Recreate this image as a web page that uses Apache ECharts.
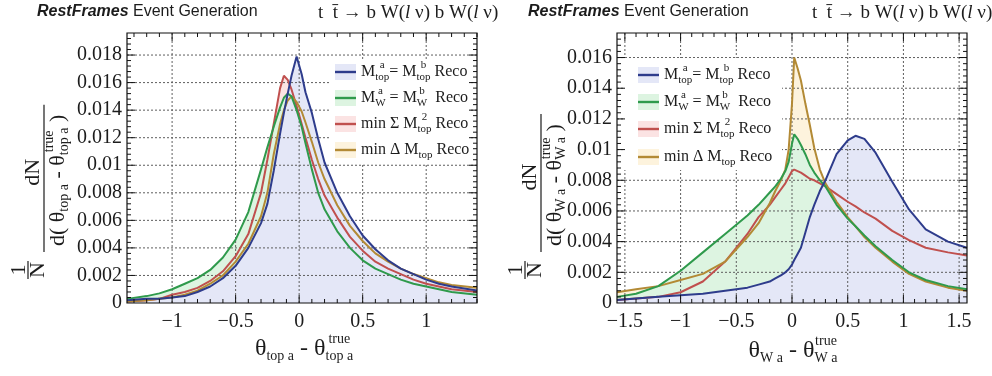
<!DOCTYPE html>
<html>
<head>
<meta charset="utf-8">
<script src="https://cdn.jsdelivr.net/npm/echarts@6/dist/echarts.min.js"></script>
<style>
  html, body { margin: 0; padding: 0; background: #fff; }
  #main { width: 992px; height: 376px; }
</style>
</head>
<body>
<div id="main"></div>
<script>
// ---------- top-quark angle resolution (left panel) ----------
const THETA_TOP = [-1.355, -1.2, -1.1, -1.0, -0.9, -0.8, -0.7, -0.6, -0.5, -0.4, -0.3, -0.25, -0.2, -0.15, -0.12, -0.09, -0.06, -0.02,
                   0.02, 0.05, 0.1, 0.15, 0.2, 0.3, 0.4, 0.5, 0.6, 0.7, 0.8, 0.9, 1.0, 1.1, 1.2, 1.4];
const TOP_EQ_TOP = [0.0002, 0.0003, 0.0003, 0.0004, 0.0005, 0.0008, 0.0012, 0.0018, 0.0027, 0.0040, 0.0058, 0.0072, 0.0096, 0.0123, 0.0138, 0.0152, 0.0165, 0.0179,
                    0.0166, 0.0153, 0.0138, 0.0119, 0.0102, 0.0080, 0.0063, 0.0049, 0.0039, 0.0031, 0.0025, 0.0021, 0.0017, 0.0014, 0.0012, 0.0009];
const TOP_EQ_W = [0.0003, 0.0005, 0.0007, 0.0010, 0.0014, 0.0018, 0.0024, 0.0033, 0.0046, 0.0066, 0.0097, 0.0113, 0.0128, 0.0142, 0.0149, 0.0152, 0.0150, 0.0140,
                  0.0128, 0.0116, 0.0097, 0.0080, 0.0068, 0.0052, 0.0040, 0.0031, 0.0025, 0.0021, 0.0017, 0.0014, 0.0012, 0.0010, 0.0008, 0.0006];
const TOP_MIN_SUM = [0.0001, 0.0002, 0.0003, 0.0006, 0.0008, 0.0011, 0.0016, 0.0023, 0.0034, 0.0050, 0.0080, 0.0104, 0.0130, 0.0156, 0.0165, 0.0162, 0.0155, 0.0143,
                     0.0130, 0.0120, 0.0104, 0.0090, 0.0078, 0.0062, 0.0048, 0.0038, 0.0030, 0.0025, 0.0021, 0.0017, 0.0014, 0.0012, 0.0010, 0.0008];
const TOP_MIN_DELTA = [0.0001, 0.0002, 0.0003, 0.0004, 0.0006, 0.0009, 0.0014, 0.0020, 0.0030, 0.0043, 0.0063, 0.0080, 0.0108, 0.0130, 0.0140, 0.0147, 0.0150, 0.0146,
                       0.0139, 0.0131, 0.0117, 0.0102, 0.0090, 0.0071, 0.0056, 0.0045, 0.0036, 0.0030, 0.0025, 0.0021, 0.0018, 0.0015, 0.0013, 0.0011];

// ---------- W-boson angle resolution (right panel) ----------
const THETA_W = [-1.5708, -1.4, -1.2, -1.0, -0.8, -0.6, -0.4, -0.3, -0.2, -0.15, -0.1, -0.06, -0.03, 0.0, 0.02, 0.05, 0.08, 0.12, 0.16, 0.2,
                 0.25, 0.3, 0.4, 0.5, 0.57, 0.65, 0.75, 0.9, 1.05, 1.2, 1.4, 1.5708];
const W_EQ_TOP = [0.0002, 0.0003, 0.0004, 0.0005, 0.0006, 0.0008, 0.0010, 0.0012, 0.0014, 0.0016, 0.0018, 0.0020, 0.0022, 0.0025, 0.0028, 0.0032, 0.0036, 0.0046, 0.0056, 0.0064,
                  0.0073, 0.0080, 0.0097, 0.0106, 0.0109, 0.0107, 0.0098, 0.0079, 0.0061, 0.0048, 0.0040, 0.0036];
const W_EQ_W = [0.0004, 0.0006, 0.0011, 0.0021, 0.0033, 0.0045, 0.0057, 0.0064, 0.0072, 0.0076, 0.0081, 0.0086, 0.0092, 0.0104, 0.0110, 0.0107, 0.0103, 0.0097, 0.0090, 0.0085,
                0.0080, 0.0076, 0.0064, 0.0055, 0.0050, 0.0044, 0.0037, 0.0028, 0.0020, 0.0015, 0.0011, 0.0009];
const W_MIN_SUM = [0.0002, 0.0003, 0.0004, 0.0007, 0.0014, 0.0027, 0.0045, 0.0056, 0.0064, 0.0069, 0.0074, 0.0078, 0.0082, 0.0086, 0.0087, 0.0086, 0.0085, 0.0083, 0.0081, 0.0080,
                   0.0078, 0.0076, 0.0071, 0.0066, 0.0063, 0.0059, 0.0055, 0.0047, 0.0041, 0.0036, 0.0033, 0.0031];
const W_MIN_DELTA = [0.0007, 0.0009, 0.0011, 0.0015, 0.0019, 0.0027, 0.0043, 0.0052, 0.0065, 0.0073, 0.0080, 0.0087, 0.0100, 0.0130, 0.0160, 0.0153, 0.0145, 0.0130, 0.0116, 0.0101,
                     0.0087, 0.0078, 0.0066, 0.0056, 0.0050, 0.0043, 0.0036, 0.0027, 0.0019, 0.0014, 0.0010, 0.0008];

// ---------- axis ticks and labels ----------
const X_TOP_TICKS = [-1, -0.5, 0, 0.5, 1];
const X_TOP_LABELS = ['\u22121', '\u22120.5', '0', '0.5', '1'];
const Y_TOP_TICKS = [0, 0.002, 0.004, 0.006, 0.008, 0.01, 0.012, 0.014, 0.016, 0.018];
const Y_TOP_LABELS = ['0', '0.002', '0.004', '0.006', '0.008', '0.01', '0.012', '0.014', '0.016', '0.018'];
const X_W_TICKS = [-1.5, -1, -0.5, 0, 0.5, 1, 1.5];
const X_W_LABELS = ['\u22121.5', '\u22121', '\u22120.5', '0', '0.5', '1', '1.5'];
const Y_W_TICKS = [0, 0.002, 0.004, 0.006, 0.008, 0.01, 0.012, 0.014, 0.016];
const Y_W_LABELS = ['0', '0.002', '0.004', '0.006', '0.008', '0.01', '0.012', '0.014', '0.016'];

// ---------- look ----------
const SERIF = '"Liberation Serif", "DejaVu Serif", serif';
const SANS = '"Liberation Sans", Arial, sans-serif';
const INK = '#1c1c1c';
const STYLE = [
  { line: '#2e3c8c', fill: '#e4e7f7' },   // M_top^a = M_top^b
  { line: '#2f9a4c', fill: '#ddf4e1' },   // M_W^a = M_W^b
  { line: '#c0504e', fill: '#fbe3e3' },   // min sum M_top^2
  { line: '#b38a35', fill: '#fdf3dd' }    // min delta M_top
];
// fills are painted red, gold, green, then blue on top; the lines follow the same order
const PAINT_ORDER = [2, 3, 1, 0];

const PANELS = [
  { grid: { left: 127, top: 33, width: 350, height: 270 }, xr: [-1.355, 1.4], yr: [0, 0.0196],
    x: THETA_TOP, curves: [TOP_EQ_TOP, TOP_EQ_W, TOP_MIN_SUM, TOP_MIN_DELTA],
    xt: X_TOP_TICKS, xl: X_TOP_LABELS, yt: Y_TOP_TICKS, yl: Y_TOP_LABELS, xMinor: 0.1, yMinor: 0.0004 },
  { grid: { left: 617, top: 33, width: 350, height: 270 }, xr: [-1.5708, 1.5708], yr: [0, 0.0176],
    x: THETA_W, curves: [W_EQ_TOP, W_EQ_W, W_MIN_SUM, W_MIN_DELTA],
    xt: X_W_TICKS, xl: X_W_LABELS, yt: Y_W_TICKS, yl: Y_W_LABELS, xMinor: 0.1, yMinor: 0.0004 }
];

// ---------- text layout with sub/superscripts ----------
const mctx = document.createElement('canvas').getContext('2d');
function fontOf(p, fam) {
  return (p.it ? 'italic ' : '') + (p.b ? 'bold ' : '') + p.fs + 'px ' + (p.fam || fam);
}
function textW(p, fam) { mctx.font = fontOf(p, fam); return mctx.measureText(p.t).width; }
function textEl(t, x, y, font, align, z, color) {
  return { type: 'text', x: x, y: y, z: z, silent: true,
    style: { text: t, font: font, fill: color || INK, textAlign: align || 'left', textVerticalAlign: 'middle' } };
}
// lays out a row of pieces; a piece with `stack` puts its parts (superscript / subscript) at one spot
function layoutRun(items, fam, z) {
  let x = 0;
  const out = [];
  items.forEach(it => {
    const parts = it.stack || [it];
    const ws = parts.map(p => textW(p, fam));
    const w = Math.max.apply(null, ws);
    parts.forEach((p, i) => {
      const off = it.stack ? (w - ws[i]) / 2 : 0;
      out.push(textEl(p.t, x + off, p.dy || 0, fontOf(p, fam), 'left', z));
    });
    x += w + (it.gap || 0);
  });
  return { children: out, width: x };
}
function centeredRun(items, fam, cx, cy, z) {
  const r = layoutRun(items, fam, z);
  return { type: 'group', x: cx - r.width / 2, y: cy, z: z, children: r.children };
}
function leftRun(items, fam, x, y, z) {
  const r = layoutRun(items, fam, z);
  return { type: 'group', x: x, y: y, z: z, children: r.children };
}

// rotated y title: 1/N dN / d( ... )
function yTitle(x0, y0, denomItems) {
  const z = 6;
  const den = layoutRun(denomItems, SERIF, z);
  const u0 = 32, barLen = den.width + 16;
  const lineEl = (u1, u2, v) => ({ type: 'line', z: z, silent: true,
    shape: { x1: u1, y1: v, x2: u2, y2: v }, style: { stroke: INK, lineWidth: 1.2 } });
  return {
    type: 'group', x: x0, y: y0, rotation: Math.PI / 2, z: z,
    children: [
      textEl('1', 14, -25, '22px ' + SERIF, 'center', z),
      lineEl(5, 23, -16),
      textEl('N', 14, -6, '22px ' + SERIF, 'center', z),
      textEl('dN', u0 + barLen / 2 + 6, -11, '22px ' + SERIF, 'center', z),
      lineEl(u0, u0 + barLen, 0),
      { type: 'group', x: u0 + 6, y: 14, z: z, children: den.children }
    ]
  };
}

// legend drawn as a white box with swatches
function legend(box, x, rowsY, labels) {
  const els = [{ type: 'rect', z: 3, silent: true, shape: box, style: { fill: '#ffffff' } }];
  labels.forEach((lab, i) => {
    const y = rowsY[i];
    els.push({ type: 'rect', z: 6, silent: true, shape: { x: x, y: y - 8, width: 21, height: 16 }, style: { fill: STYLE[i].fill } });
    els.push({ type: 'line', z: 6, silent: true, shape: { x1: x, y1: y, x2: x + 21, y2: y }, style: { stroke: STYLE[i].line, lineWidth: 2.4 } });
    els.push(leftRun(lab, SERIF, x + 26, y, 6));
  });
  return els;
}
const M = 16, S = 11;
const LEGEND_LABELS = [
  [{ t: 'M', fs: M }, { stack: [{ t: 'a', fs: S, dy: -7 }, { t: 'top', fs: S, dy: 5 }] }, { t: '= M', fs: M },
   { stack: [{ t: 'b', fs: S, dy: -7 }, { t: 'top', fs: S, dy: 5 }] }, { t: ' Reco', fs: M }],
  [{ t: 'M', fs: M }, { stack: [{ t: 'a', fs: S, dy: -7 }, { t: 'W', fs: S, dy: 5 }] }, { t: ' = M', fs: M },
   { stack: [{ t: 'b', fs: S, dy: -7 }, { t: 'W', fs: S, dy: 5 }] }, { t: '  Reco', fs: M }],
  [{ t: 'min \u03A3 M', fs: M }, { stack: [{ t: '2', fs: S, dy: -7 }, { t: 'top', fs: S, dy: 5 }] }, { t: ' Reco', fs: M }],
  [{ t: 'min \u0394 M', fs: M }, { stack: [{ t: 'top', fs: S, dy: 5 }] }, { t: ' Reco', fs: M }]
];

// ---------- headers ----------
function header(x, xDecay) {
  return [
    leftRun([{ t: 'RestFrames', fs: 16, b: true, it: true }, { t: ' Event Generation', fs: 16 }], SANS, x, 12, 6),
    leftRun([{ t: 't  t\u0304 \u2192 b W(', fs: 19 }, { t: 'l', fs: 19, it: true }, { t: ' \u03BD) b W(', fs: 19 },
             { t: 'l', fs: 19, it: true }, { t: ' \u03BD)', fs: 19 }], SERIF, xDecay, 13, 6)
  ];
}

// ---------- series ----------
const pairs = (xs, ys) => xs.map((x, i) => [x, ys[i]]);
const near = (arr, v) => arr.some(t => Math.abs(t - v) < 1e-9);
const series = [];
PANELS.forEach((p, pi) => {
  const axes = { xAxisIndex: pi, yAxisIndex: pi };
  // filled areas below everything else
  PAINT_ORDER.forEach(ci => series.push(Object.assign({
    type: 'line', data: pairs(p.x, p.curves[ci]), symbol: 'none', silent: true, z: 1,
    lineStyle: { opacity: 0 }, areaStyle: { color: STYLE[ci].fill, opacity: 1, origin: 'start' }
  }, axes)));
  // dashed grid at the major ticks
  const gridData = p.xt.map(v => [v, p.yr[0], 0]).concat(p.yt.filter(v => v > p.yr[0]).map(v => [p.xr[0], v, 1]));
  series.push(Object.assign({
    type: 'custom', z: 2, silent: true, clip: false, data: gridData,
    renderItem: (params, api) => {
      const vert = api.value(2) === 0;
      const a = vert ? api.coord([api.value(0), p.yr[0]]) : api.coord([p.xr[0], api.value(1)]);
      const b = vert ? api.coord([api.value(0), p.yr[1]]) : api.coord([p.xr[1], api.value(1)]);
      return { type: 'line', shape: { x1: a[0], y1: a[1], x2: b[0], y2: b[1] },
               style: { stroke: '#5e5e5e', lineWidth: 1, lineDash: [2, 2] } };
    }
  }, axes));
  // the curves
  PAINT_ORDER.forEach(ci => series.push(Object.assign({
    type: 'line', data: pairs(p.x, p.curves[ci]), symbol: 'none', silent: true, z: 4,
    lineStyle: { color: STYLE[ci].line, width: 2 }
  }, axes)));
  // inward ticks on all four sides
  const tickData = [];
  for (let k = Math.ceil(p.xr[0] / p.xMinor - 1e-9); k <= Math.floor(p.xr[1] / p.xMinor + 1e-9); k++) {
    const v = +(k * p.xMinor).toFixed(6);
    tickData.push([v, p.yr[0], near(p.xt, v) ? 1 : 0, 0]);
  }
  for (let k = 1; k * p.yMinor < p.yr[1] - 1e-9; k++) {
    const v = +(k * p.yMinor).toFixed(6);
    tickData.push([p.xr[0], v, near(p.yt, v) ? 1 : 0, 1]);
  }
  series.push(Object.assign({
    type: 'custom', z: 7, silent: true, clip: false, data: tickData,
    renderItem: (params, api) => {
      const len = api.value(2) === 1 ? 8 : 4;
      const st = { stroke: '#111', lineWidth: 1 };
      if (api.value(3) === 0) {
        const a = api.coord([api.value(0), p.yr[0]]), b = api.coord([api.value(0), p.yr[1]]);
        return { type: 'group', children: [
          { type: 'line', shape: { x1: a[0], y1: a[1], x2: a[0], y2: a[1] - len }, style: st },
          { type: 'line', shape: { x1: b[0], y1: b[1], x2: b[0], y2: b[1] + len }, style: st }] };
      }
      const a = api.coord([p.xr[0], api.value(1)]), b = api.coord([p.xr[1], api.value(1)]);
      return { type: 'group', children: [
        { type: 'line', shape: { x1: a[0], y1: a[1], x2: a[0] + len, y2: a[1] }, style: st },
        { type: 'line', shape: { x1: b[0], y1: b[1], x2: b[0] - len, y2: b[1] }, style: st }] };
    }
  }, axes));
  // tick labels
  const labelData = p.xt.map((v, i) => [v, p.yr[0], i, 0]).concat(p.yt.map((v, i) => [p.xr[0], v, i, 1]));
  series.push(Object.assign({
    type: 'custom', z: 7, silent: true, clip: false, data: labelData,
    renderItem: (params, api) => {
      const i = api.value(2);
      const c = api.coord([api.value(0), api.value(1)]);
      const font = '20px ' + SERIF;
      if (api.value(3) === 0) {
        return { type: 'text', x: c[0], y: c[1] + 19,
                 style: { text: p.xl[i], font: font, fill: INK, textAlign: 'center', textVerticalAlign: 'middle' } };
      }
      return { type: 'text', x: c[0] - 5, y: c[1],
               style: { text: p.yl[i], font: font, fill: INK, textAlign: 'right', textVerticalAlign: 'middle' } };
    }
  }, axes));
});

// ---------- titles ----------
const XT = 24, XS = 14;
const graphics = [].concat(
  header(37, 318),
  header(528, 812),
  legend({ x: 331, y: 59, width: 140, height: 105 }, 335, [72, 98, 124, 150], LEGEND_LABELS),
  legend({ x: 624, y: 58, width: 158, height: 112 }, 638, [75, 102, 129, 157], LEGEND_LABELS),
  [
    centeredRun([{ t: '\u03B8', fs: XT }, { stack: [{ t: 'top a', fs: XS, dy: 7 }] }, { t: ' - \u03B8', fs: XT },
                 { stack: [{ t: 'true', fs: XS, dy: -10 }, { t: 'top a', fs: XS, dy: 7 }] }], SERIF, 304, 349, 6),
    centeredRun([{ t: '\u03B8', fs: XT }, { stack: [{ t: 'W a', fs: XS, dy: 7 }] }, { t: ' - \u03B8', fs: XT },
                 { stack: [{ t: 'true', fs: XS, dy: -10 }, { t: 'W a', fs: XS, dy: 7 }] }], SERIF, 793, 351, 6),
    yTitle(44, 284, [{ t: 'd( \u03B8', fs: 22 }, { stack: [{ t: 'top a', fs: XS, dy: 6 }] }, { t: ' - \u03B8', fs: 22 },
                     { stack: [{ t: 'true', fs: XS, dy: -9 }, { t: 'top a', fs: XS, dy: 6 }] }, { t: ' )', fs: 22 }]),
    yTitle(541, 284, [{ t: 'd( \u03B8', fs: 22 }, { stack: [{ t: 'W a', fs: XS, dy: 6 }] }, { t: ' - \u03B8', fs: 22 },
                      { stack: [{ t: 'true', fs: XS, dy: -9 }, { t: 'W a', fs: XS, dy: 6 }] }, { t: ' )', fs: 22 }])
  ]
);

const chart = echarts.init(document.getElementById('main'), null, { renderer: 'canvas' });
chart.setOption({
  animation: false,
  backgroundColor: '#ffffff',
  grid: PANELS.map(p => Object.assign({ show: true, borderColor: '#111', borderWidth: 1.2,
                                        backgroundColor: 'rgba(0,0,0,0)', z: 7 }, p.grid)),
  xAxis: PANELS.map((p, i) => ({ gridIndex: i, type: 'value', min: p.xr[0], max: p.xr[1], show: false })),
  yAxis: PANELS.map((p, i) => ({ gridIndex: i, type: 'value', min: p.yr[0], max: p.yr[1], show: false })),
  series: series,
  graphic: { elements: graphics }
});
</script>
</body>
</html>
